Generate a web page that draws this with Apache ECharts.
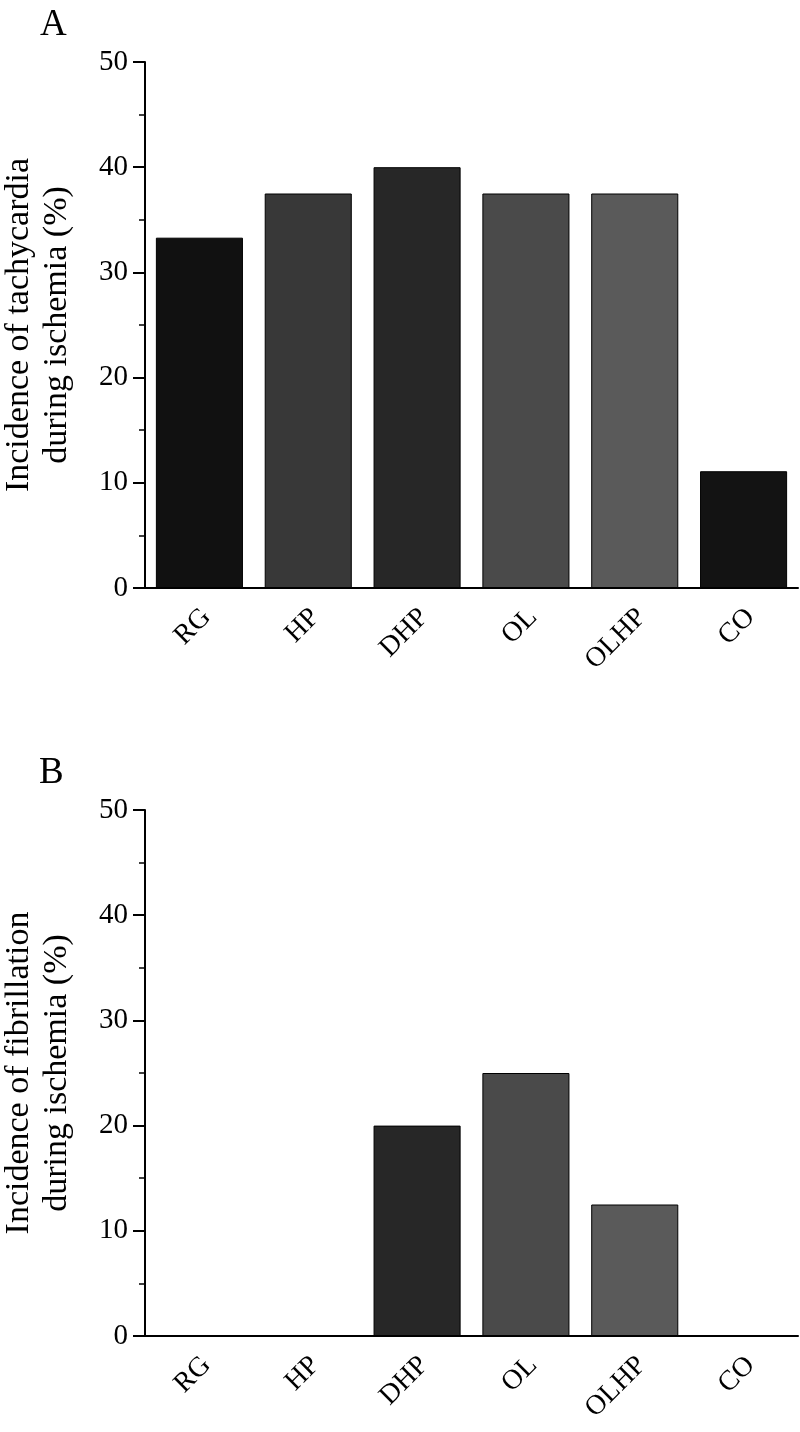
<!DOCTYPE html>
<html>
<head>
<meta charset="utf-8">
<script src="https://cdn.jsdelivr.net/npm/echarts@6/dist/echarts.min.js"></script>
<style>
  html, body { margin: 0; padding: 0; background: #fff; }
  #chart { width: 800px; height: 1432px; }
</style>
</head>
<body>
<div id="chart"></div>
<script>
var groups = ['RG', 'HP', 'DHP', 'OL', 'OLHP', 'CO'];
var barColors = ['#111111', '#383838', '#272727', '#4a4a4a', '#5a5a5a', '#131313'];
var tachycardia = [33.3, 37.5, 40, 37.5, 37.5, 11.1];
var fibrillation = [0, 0, 20, 25, 12.5, 0];
var yTicks = [0, 10, 20, 30, 40, 50];

var font = "'Liberation Serif', 'Times New Roman', serif";

function coloured(values) {
  return values.map(function (v, i) {
    return { value: v, itemStyle: { color: barColors[i] } };
  });
}

function xAxisFor(idx) {
  return {
    type: 'category',
    gridIndex: idx,
    data: groups,
    axisLine: { lineStyle: { color: '#000', width: 2 } },
    axisTick: { alignWithLabel: true, length: 11, lineStyle: { color: '#000', width: 2 } },
    axisLabel: {
      rotate: 45, fontFamily: font, fontSize: 28, color: '#000',
      margin: 18, verticalAlign: 'top', lineHeight: 20
    }
  };
}

function yAxisFor(idx, name) {
  return {
    type: 'value',
    gridIndex: idx,
    min: yTicks[0],
    max: yTicks[yTicks.length - 1],
    interval: 10,
    name: name,
    nameLocation: 'middle',
    nameGap: 69,
    nameTextStyle: { fontFamily: font, fontSize: 34, color: '#000', lineHeight: 38 },
    axisLine: { show: true, lineStyle: { color: '#000', width: 2 } },
    axisTick: { show: true, length: 12, lineStyle: { color: '#000', width: 2 } },
    minorTick: { show: true, splitNumber: 2, length: 6, lineStyle: { color: '#000', width: 1.5 } },
    splitLine: { show: false },
    axisLabel: { fontFamily: font, fontSize: 29, color: '#000', margin: 17 }
  };
}

function barSeries(idx, values) {
  return {
    type: 'bar',
    xAxisIndex: idx,
    yAxisIndex: idx,
    data: coloured(values),
    barCategoryGap: '20%',
    itemStyle: { borderColor: '#000', borderWidth: 1 }
  };
}

var chart = echarts.init(document.getElementById('chart'));
chart.setOption({
  animation: false,
  backgroundColor: '#fff',
  title: [
    { text: 'A', left: 35, top: 2, textStyle: { fontFamily: font, fontSize: 37, fontWeight: 'normal', color: '#000' } },
    { text: 'B', left: 34, top: 750, textStyle: { fontFamily: font, fontSize: 37, fontWeight: 'normal', color: '#000' } }
  ],
  grid: [
    { left: 145, right: 2, top: 62, height: 526, outerBoundsMode: 'none', containLabel: false },
    { left: 145, right: 2, top: 810, height: 526, outerBoundsMode: 'none', containLabel: false }
  ],
  xAxis: [xAxisFor(0), xAxisFor(1)],
  yAxis: [
    yAxisFor(0, 'Incidence of tachycardia\nduring ischemia (%)'),
    yAxisFor(1, 'Incidence of fibrillation\nduring ischemia (%)')
  ],
  series: [barSeries(0, tachycardia), barSeries(1, fibrillation)]
});
</script>
</body>
</html>
